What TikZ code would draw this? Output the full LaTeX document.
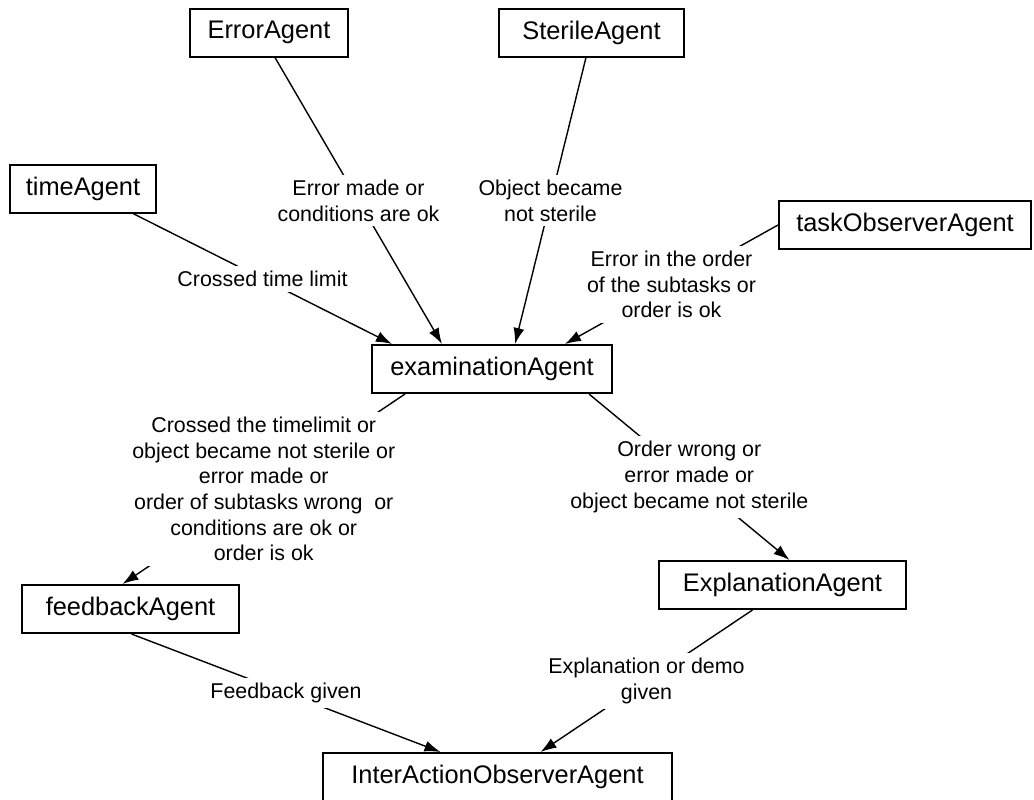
\documentclass[tikz,border=0pt]{standalone}
\usepackage{fontspec}
\setmainfont{Liberation Sans}
\usetikzlibrary{arrows.meta}

\begin{document}
\begin{tikzpicture}[
  x=0.5pt,y=-0.5pt,
  agent/.style={draw,line width=1pt,minimum height=24pt,inner sep=2pt,font=\fontsize{12.7}{15}\selectfont},
  cond/.style={fill=white,align=center,inner sep=2.5pt,font=\fontsize{10.7}{12.8}\selectfont},
  arr/.style={-{Latex[length=8pt,width=5.5pt]},line width=0.7pt}
]
\useasboundingbox (0,0) rectangle (1034,799);
% agents
\node[agent,minimum width=79pt] (error) at (269,32.5) {ErrorAgent};
\node[agent,minimum width=92.5pt] (sterile) at (591.5,32.5) {SterileAgent};
\node[agent,minimum width=73pt] (time) at (83,188.5) {timeAgent};
\node[agent,minimum width=126pt] (task) at (905,225) {taskObserverAgent};
\node[agent,minimum width=120pt] (exam) at (492,369) {examinationAgent};
\node[agent,minimum width=108.5pt] (feedback) at (130.5,609) {feedbackAgent};
\node[agent,minimum width=123.5pt] (expl) at (782.5,585) {ExplanationAgent};
\node[agent,minimum width=174.5pt] (inter) at (497.5,777) {InterActionObserverAgent};
% messages into examinationAgent
\draw[arr] ([xshift=25pt]time.south) -- node[cond] {Crossed time limit} ([xshift=-50pt]exam.north);
\draw[arr] ([xshift=3pt]error.south) -- node[cond] {Error made or\\conditions are ok} ([xshift=-25pt]exam.north);
\draw[arr] ([xshift=-2.75pt]sterile.south) -- node[cond] {Object became\\not sterile} ([xshift=11.5pt]exam.north);
\draw[arr] (task.west) -- node[cond] {Error in the order\\of the subtasks or\\order is ok} ([xshift=36.5pt]exam.north);
% messages out of examinationAgent
\draw[arr] ([xshift=-43.5pt]exam.south) -- node[cond] {Crossed the timelimit or\\object became not sterile or\\error made or\\ order of subtasks wrong~ or\\conditions are ok or\\order is ok} ([xshift=-4pt]feedback.north);
\draw[arr] ([xshift=48.5pt]exam.south) -- node[cond] {Order wrong or\\error made or\\object became not sterile} ([xshift=3.5pt]expl.north);
% messages into InterActionObserverAgent
\draw[arr] ([xshift=0.5pt]feedback.south) -- node[cond] {Feedback given} ([xshift=-28.5pt]inter.north);
\draw[arr] ([xshift=-15pt]expl.south) -- node[cond] {Explanation or demo\\given} ([xshift=21.5pt]inter.north);
\end{tikzpicture}
\end{document}
